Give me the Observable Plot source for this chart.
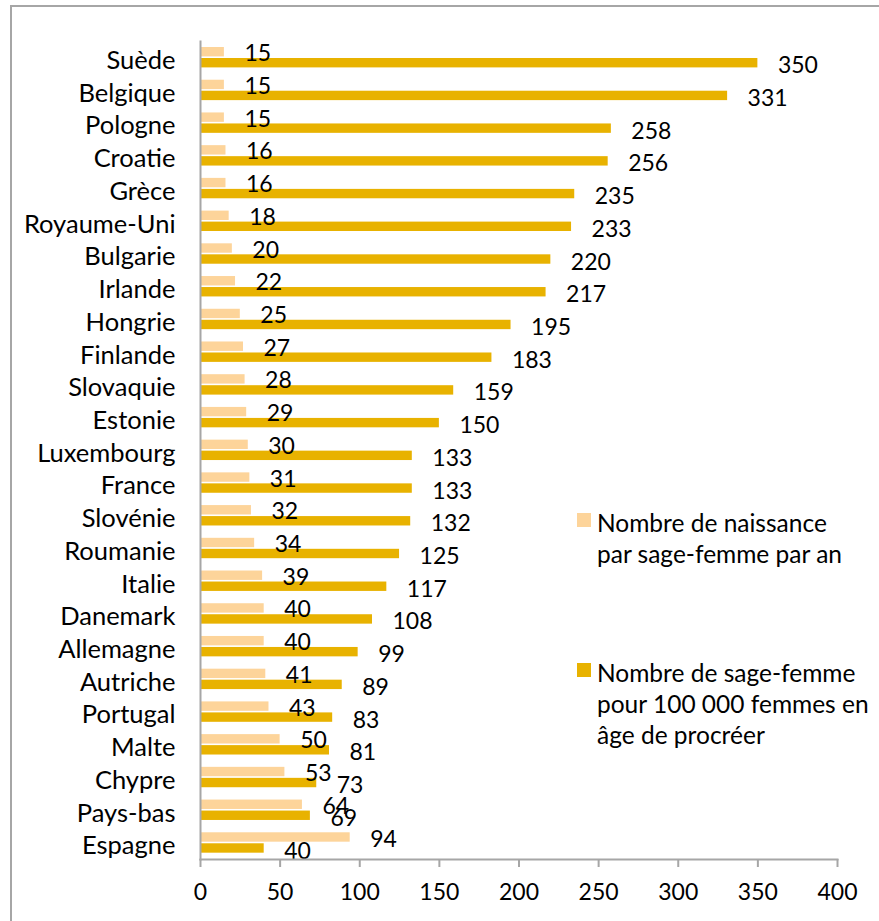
<!DOCTYPE html>
<html><head><meta charset="utf-8">
<script src="https://cdn.jsdelivr.net/npm/d3@7"></script>
<script src="https://cdn.jsdelivr.net/npm/@observablehq/plot@0.6"></script>
<style>
html,body{margin:0;padding:0;background:#fff;overflow:hidden}
#wrap{position:relative;width:879px;height:921px;font-family:Lato,sans-serif;color:#000}
#frame{position:absolute;left:10px;top:5px;width:900px;height:950px;border-left:2px solid #a6a6a6;border-top:2px solid #a6a6a6;box-sizing:border-box}
#chart{position:absolute;left:0;top:0}
.leg{position:absolute;font-size:24.5px;line-height:31px;white-space:nowrap}
.sw{position:absolute;width:14px;height:14px}
</style></head><body>
<div id="wrap"><div id="frame"></div><div id="chart"></div>
<div class="sw" id="sw1"></div><div class="leg" id="lg1"></div>
<div class="sw" id="sw2"></div><div class="leg" id="lg2"></div>
</div>
<script>
const countries = ["Suède","Belgique","Pologne","Croatie","Grèce","Royaume-Uni","Bulgarie","Irlande","Hongrie","Finlande","Slovaquie","Estonie","Luxembourg","France","Slovénie","Roumanie","Italie","Danemark","Allemagne","Autriche","Portugal","Malte","Chypre","Pays-bas","Espagne"];
const naissances = [15,15,15,16,16,18,20,22,25,27,28,29,30,31,32,34,39,40,40,41,43,50,53,64,94];
const sagesFemmes = [350,331,258,256,235,233,220,217,195,183,159,150,133,133,132,125,117,108,99,89,83,81,73,69,40];
const xTicks = [0,50,100,150,200,250,300,350,400];
const seriesNames = [["Nombre de naissance","par sage-femme par an"],["Nombre de sage-femme","pour 100 000 femmes en","âge de procréer"]];
const seriesColors = ["#fdd49a","#e8b200"];

const rows = countries.map((c,i)=>({country:c, naiss:naissances[i], sf:sagesFemmes[i]}));
const band = 818/25;
const barH = 9.4;

const chart = Plot.plot({
  width:879, height:921,
  marginLeft:200, marginRight:42, marginTop:41, marginBottom:62,
  x:{domain:[0,400]},
  y:{domain:countries, padding:0, round:false},
  style:{fontFamily:"Lato, sans-serif", fontSize:"23px", background:"transparent", color:"#000", overflow:"visible"},
  marks:[
    Plot.barX(rows,{y:"country", x:"naiss", fill:seriesColors[0], insetTop:6, insetBottom:band-6-barH}),
    Plot.barX(rows,{y:"country", x:"sf", fill:seriesColors[1], insetTop:17, insetBottom:band-17-barH}),
    Plot.text(rows,{y:"country", x:"naiss", text:d=>String(d.naiss), textAnchor:"start", dx:20, dy:-4, fill:"#000"}),
    Plot.text(rows,{y:"country", x:"sf", text:d=>String(d.sf), textAnchor:"start", dx:20, dy:8, fill:"#000"}),
    Plot.frame({anchor:"left", stroke:"#a6a6a6", strokeWidth:2}),
    Plot.frame({anchor:"bottom", stroke:"#a6a6a6", strokeWidth:2}),
    Plot.axisY({tickSize:0, tickPadding:25, label:null, dy:3, fill:"#000", fontSize:"25.5px"}),
    Plot.axisX({ticks:xTicks, tickSize:8, tickPadding:16, label:null, stroke:"#a6a6a6", strokeWidth:2, fill:"#000"})
  ]
});
document.getElementById("chart").appendChild(chart);

const sw1 = document.getElementById("sw1");
sw1.style.cssText += `left:577px;top:513px;background:${seriesColors[0]}`;
const lg1 = document.getElementById("lg1");
lg1.style.cssText += "left:597px;top:507px";
lg1.innerHTML = seriesNames[0].join("<br>");
const sw2 = document.getElementById("sw2");
sw2.style.cssText += `left:577px;top:663px;background:${seriesColors[1]}`;
const lg2 = document.getElementById("lg2");
lg2.style.cssText += "left:597px;top:657px";
lg2.innerHTML = seriesNames[1].join("<br>");
</script>
</body></html>
